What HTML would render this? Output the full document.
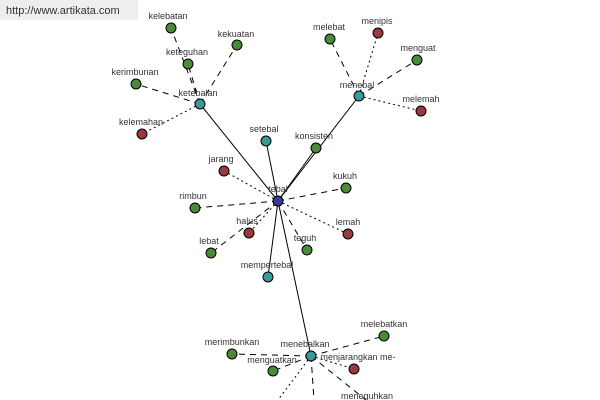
<!DOCTYPE html>
<html><head><meta charset="utf-8"><style>
body{margin:0;width:600px;height:400px;background:#fff;overflow:hidden;font-family:"Liberation Sans",sans-serif}
#wm{position:absolute;left:0;top:0;width:138px;height:20px;background:#eeeeee;font-size:11px;color:#333;line-height:22px;padding-left:6px;box-sizing:border-box}
</style></head><body>
<svg width="600" height="400" style="position:absolute;left:0;top:0" font-family="Liberation Sans, sans-serif" font-size="9" fill="#333">
<g stroke="#000" stroke-width="1" fill="none">
<line x1="278" y1="201" x2="200" y2="104"/>
<line x1="278" y1="201" x2="359" y2="96"/>
<line x1="278" y1="201" x2="311" y2="356"/>
<line x1="278" y1="201" x2="266" y2="141"/>
<line x1="278" y1="201" x2="268" y2="277"/>
<line x1="278" y1="201" x2="316" y2="148"/>
<g stroke-dasharray="6,5">
<line x1="278" y1="201" x2="195" y2="208"/>
<line x1="278" y1="201" x2="346" y2="188"/>
<line x1="278" y1="201" x2="211" y2="253"/>
<line x1="278" y1="201" x2="307" y2="250"/>
<line x1="200" y1="104" x2="171" y2="28"/>
<line x1="200" y1="104" x2="188" y2="64"/>
<line x1="200" y1="104" x2="237" y2="45"/>
<line x1="200" y1="104" x2="136" y2="84"/>
<line x1="359" y1="96" x2="330" y2="39"/>
<line x1="359" y1="96" x2="417" y2="60"/>
<line x1="311" y1="356" x2="232" y2="354"/>
<line x1="311" y1="356" x2="384" y2="336"/>
<line x1="311" y1="356" x2="273" y2="371"/>
<line x1="311" y1="356" x2="314" y2="400"/>
<line x1="311" y1="356" x2="366" y2="400"/>
</g>
<g stroke-dasharray="2,3">
<line x1="278" y1="201" x2="224" y2="171"/>
<line x1="278" y1="201" x2="249" y2="233"/>
<line x1="278" y1="201" x2="348" y2="234"/>
<line x1="200" y1="104" x2="142" y2="134"/>
<line x1="359" y1="96" x2="378" y2="33"/>
<line x1="359" y1="96" x2="421" y2="111"/>
<line x1="311" y1="356" x2="354" y2="369"/>
<line x1="311" y1="356" x2="278" y2="400"/>
</g>
</g>
<g stroke="#000" stroke-width="1">
<circle cx="278" cy="201" r="5" fill="#3a3a9a"/>
<g fill="#3a9a9a"><circle cx="200" cy="104" r="5"/><circle cx="359" cy="96" r="5"/><circle cx="311" cy="356" r="5"/><circle cx="266" cy="141" r="5"/><circle cx="268" cy="277" r="5"/></g>
<g fill="#4a8a3a"><circle cx="171" cy="28" r="5"/><circle cx="188" cy="64" r="5"/><circle cx="237" cy="45" r="5"/><circle cx="136" cy="84" r="5"/><circle cx="330" cy="39" r="5"/><circle cx="417" cy="60" r="5"/><circle cx="316" cy="148" r="5"/><circle cx="346" cy="188" r="5"/><circle cx="195" cy="208" r="5"/><circle cx="211" cy="253" r="5"/><circle cx="307" cy="250" r="5"/><circle cx="232" cy="354" r="5"/><circle cx="273" cy="371" r="5"/><circle cx="384" cy="336" r="5"/></g>
<g fill="#9a3a40"><circle cx="142" cy="134" r="5"/><circle cx="378" cy="33" r="5"/><circle cx="421" cy="111" r="5"/><circle cx="224" cy="171" r="5"/><circle cx="249" cy="233" r="5"/><circle cx="348" cy="234" r="5"/><circle cx="354" cy="369" r="5"/></g>
</g>
<g text-anchor="middle">
<text x="278" y="192">tebal</text>
<text x="198" y="96">ketebalan</text>
<text x="168" y="19">kelebatan</text>
<text x="187" y="55">keteguhan</text>
<text x="236" y="37">kekuatan</text>
<text x="135" y="75">kerimbunan</text>
<text x="141" y="125">kelemahan</text>
<text x="357" y="88">menebal</text>
<text x="329" y="30">melebat</text>
<text x="377" y="24">menipis</text>
<text x="418" y="51">menguat</text>
<text x="421" y="102">melemah</text>
<text x="264" y="132">setebal</text>
<text x="314" y="139">konsisten</text>
<text x="221" y="162">jarang</text>
<text x="345" y="179">kukuh</text>
<text x="193" y="199">rimbun</text>
<text x="247" y="224">halus</text>
<text x="348" y="225">lemah</text>
<text x="209" y="244">lebat</text>
<text x="305" y="241">teguh</text>
<text x="267" y="268">mempertebal</text>
<text x="305" y="347">menebalkan</text>
<text x="232" y="345">merimbunkan</text>
<text x="272" y="363">menguatkan</text>
<text x="358" y="360">menjarangkan me-</text>
<text x="384" y="327">melebatkan</text>
<text x="367" y="399">meneguhkan</text>
</g>
</svg>
<div id="wm">http://www.artikata.com</div>
</body></html>
